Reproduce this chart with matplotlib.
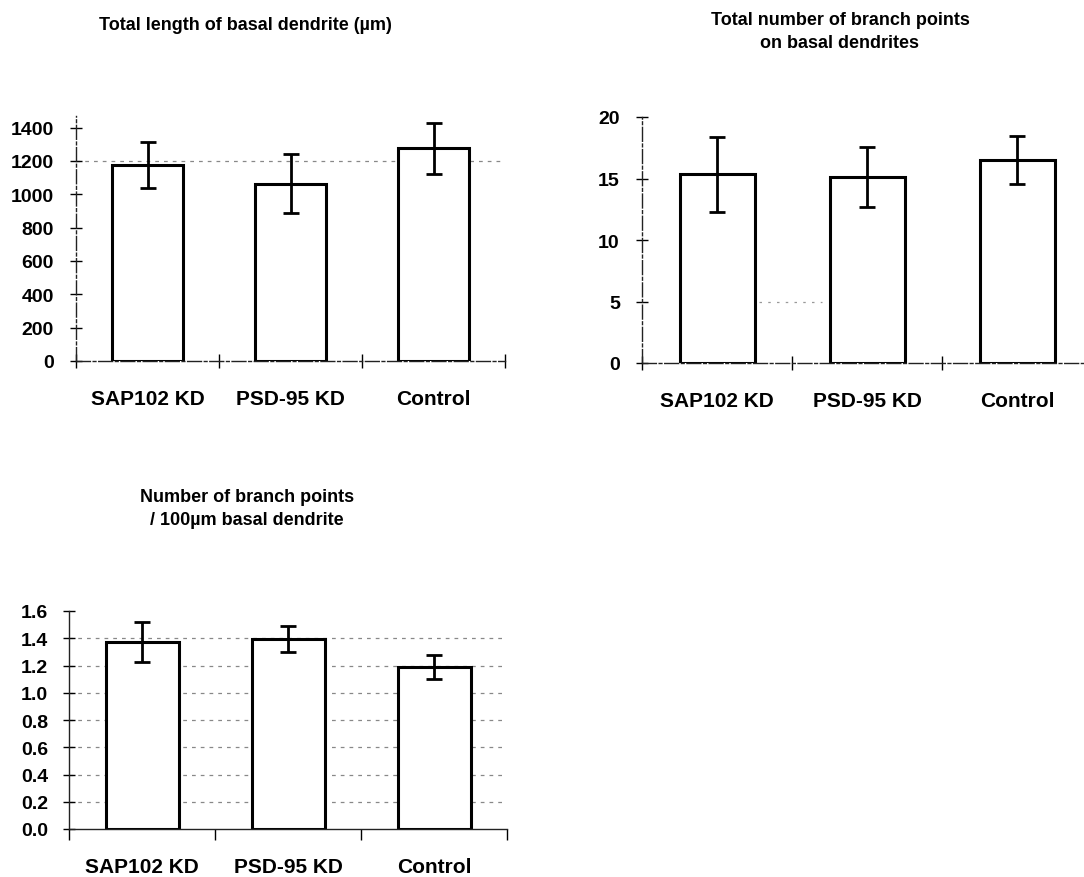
import matplotlib
matplotlib.use("Agg")
import matplotlib.pyplot as plt
import numpy as np

plt.rcParams['font.family'] = ['Liberation Sans', 'DejaVu Sans']
plt.rcParams['font.weight'] = 'bold'

categories = ["SAP102 KD", "PSD-95 KD", "Control"]

length_vals = [1175, 1065, 1277]
length_err = [138, 178, 154]

branch_vals = [15.33, 15.12, 16.5]
branch_err = [3.08, 2.43, 1.97]

density_vals = [1.372, 1.394, 1.189]
density_err = [0.145, 0.093, 0.087]

W, H = 1084, 878
fig = plt.figure(figsize=(W / 100, H / 100), dpi=100)


def rect(x0, x1, ytop, ybot):
    return [x0 / W, 1 - ybot / H, (x1 - x0) / W, (ybot - ytop) / H]


def panel(pos, vals, errs, ylim, yticks, ylabels, grids, axstyle, ypad):
    ax = fig.add_axes(pos)
    x = np.arange(len(vals)) + 0.5
    for g in grids:
        ax.axhline(g, color='#888888', lw=0.9, ls=(0, (3, 4)), zorder=0)
    ax.bar(x, vals, width=0.5, color='white', edgecolor='black', linewidth=2.2, zorder=2)
    ax.errorbar(x, vals, yerr=errs, fmt='none', ecolor='black', elinewidth=2.0,
                capsize=6, capthick=2.0, zorder=3)
    ax.set_xlim(0, 3)
    ax.set_ylim(*ylim)
    ax.set_yticks(yticks)
    ax.set_yticklabels(ylabels, fontsize=14, fontweight='bold')
    ax.set_xticks([0, 1, 2, 3])
    ax.set_xticklabels([])
    ax.set_xticks(x, minor=True)
    ax.set_xticklabels(categories, minor=True, fontsize=15, fontweight='bold')
    ax.tick_params(axis='x', which='minor', length=0, pad=20)
    ax.tick_params(axis='x', which='major', direction='inout', length=10, width=1.0)
    ax.tick_params(axis='y', direction='inout', length=8, width=1.0, pad=ypad)
    for s in ['top', 'right']:
        ax.spines[s].set_visible(False)
    for s in ['left', 'bottom']:
        ax.spines[s].set_linewidth(1.0)
        ax.spines[s].set_color('#222222')
        if axstyle == 'dash':
            ax.spines[s].set_linestyle((0, (10, 2, 2, 2)))
    ax.patch.set_alpha(0)
    return ax


ax1 = panel(rect(76, 505, 117, 362), length_vals, length_err, (0, 1470),
            [0, 200, 400, 600, 800, 1000, 1200, 1400],
            ['0', '200', '400', '600', '800', '1000', '1200', '1400'],
            [1200], 'dash', 12)

ax2 = panel(rect(642, 1092, 118, 364), branch_vals, branch_err, (0, 20),
            [0, 5, 10, 15, 20], ['0', '5', '10', '15', '20'], [], 'dash', 12)
ax2.hlines(5, 0.78, 1.2, color='#999999', lw=0.9, ls=(0, (2, 5)), zorder=0)

ax3 = panel(rect(69, 507, 612, 830), density_vals, density_err, (0, 1.6),
            [0, 0.2, 0.4, 0.6, 0.8, 1.0, 1.2, 1.4, 1.6],
            ['0.0', '0.2', '0.4', '0.6', '0.8', '1.0', '1.2', '1.4', '1.6'],
            [0.2, 0.4, 0.6, 0.8, 1.0, 1.2, 1.4], 'solid', 11)
ax3.tick_params(axis='x', which='major', direction='out', length=8)

fig.text(245 / W, 1 - 25 / H, "Total length of basal dendrite (µm)",
         ha='center', va='center', fontsize=13, fontweight='bold')
fig.text(840 / W, 1 - 32 / H, "Total number of branch points\non basal dendrites",
         ha='center', va='center', fontsize=13, fontweight='bold', linespacing=1.45)
fig.text(247 / W, 1 - 509 / H, "Number of branch points\n/ 100µm basal dendrite",
         ha='center', va='center', fontsize=13, fontweight='bold', linespacing=1.45)

fig.savefig("out.png", dpi=100)
